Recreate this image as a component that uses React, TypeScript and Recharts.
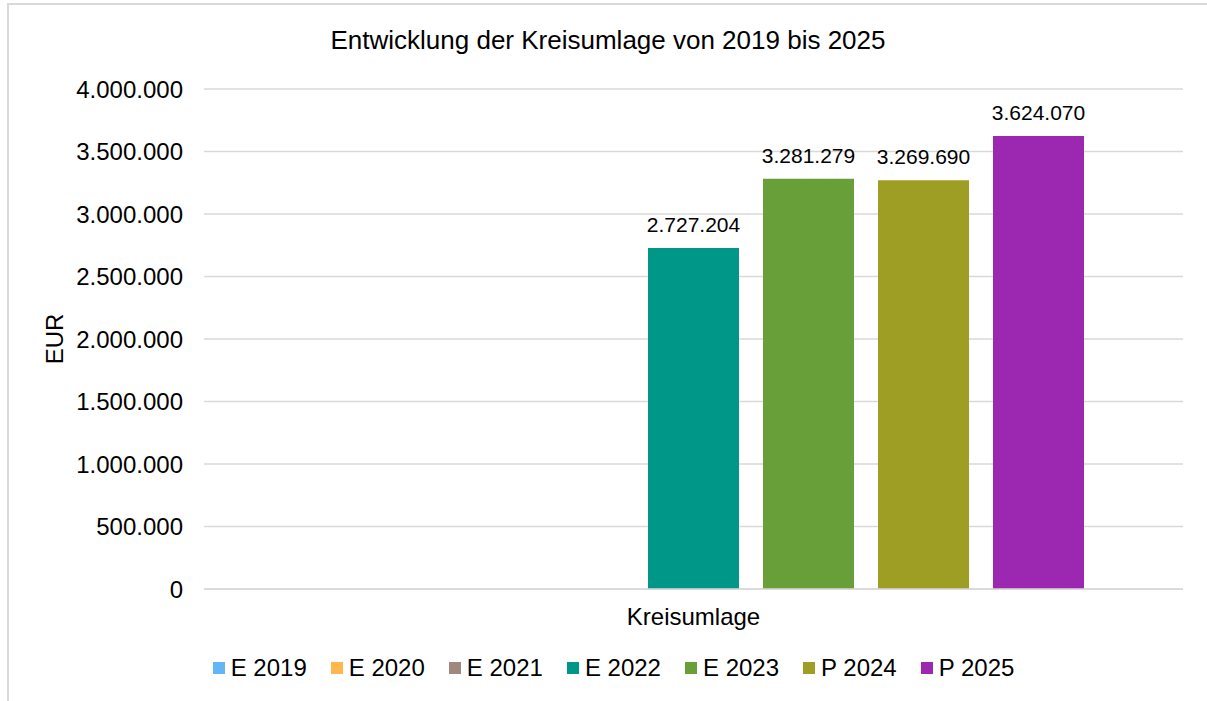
import { Bar, BarChart, CartesianGrid, LabelList, Legend, XAxis, YAxis, Label } from "recharts";

const categories = ["Kreisumlage"];
const seriesNames = ["E 2019", "E 2020", "E 2021", "E 2022", "E 2023", "P 2024", "P 2025"];
const seriesValues: (number | null)[] = [null, null, null, 2727204, 3281279, 3269690, 3624070];
const seriesColors = ["#64b5f6", "#ffb74d", "#a1887f", "#009688", "#689f38", "#9e9d24", "#9c27b0"];
const yTicks = [0, 500000, 1000000, 1500000, 2000000, 2500000, 3000000, 3500000, 4000000];

const FONT = "'Liberation Sans', Arial, sans-serif";

const data = categories.map((name) => {
  const row: Record<string, string | number | null> = { name };
  seriesNames.forEach((s, i) => {
    row[s] = seriesValues[i];
  });
  return row;
});

const fmt = (v: unknown) => {
  if (v === null || v === undefined || v === "") return "";
  return String(Math.round(Number(v))).replace(/\B(?=(\d{3})+(?!\d))/g, ".");
};

const renderLegend = () => (
  <div
    style={{
      display: "flex",
      justifyContent: "center",
      alignItems: "center",
      height: 30,
      paddingLeft: 20,
      fontFamily: FONT,
      fontSize: 24,
      color: "#000",
    }}
  >
    {seriesNames.map((s, i) => (
      <div key={s} style={{ display: "flex", alignItems: "center", marginRight: i < seriesNames.length - 1 ? 24 : 0 }}>
        <span style={{ display: "inline-block", width: 12, height: 12, background: seriesColors[i], marginRight: 6 }} />
        <span>{s}</span>
      </div>
    ))}
  </div>
);

export default function App() {
  return (
    <div style={{ position: "fixed", left: 0, top: 0, width: 1207, height: 701, overflow: "hidden", background: "#fff" }}>
      <div style={{ position: "absolute", left: 0, top: 0 }}>
        <BarChart
          width={1207}
          height={701}
          data={data}
          margin={{ top: 89, right: 24, bottom: 18, left: 0 }}
          barCategoryGap={99}
          barGap={24}
          style={{ fontFamily: FONT }}
        >
          <text x={608} y={49} textAnchor="middle" fontSize={26} fill="#000" fontFamily={FONT}>
            Entwicklung der Kreisumlage von 2019 bis 2025
          </text>
          <CartesianGrid vertical={false} stroke="#d9d9d9" strokeWidth={1.3} />
          <XAxis
            dataKey="name"
            height={64}
            tickLine={false}
            axisLine={{ stroke: "#d9d9d9", strokeWidth: 1.3 }}
            tickMargin={13}
            tick={{ fill: "#000", fontSize: 24, fontFamily: FONT }}
          />
          <YAxis
            width={204}
            domain={[0, 4000000]}
            ticks={yTicks}
            tickFormatter={fmt}
            axisLine={false}
            tickLine={false}
            tickMargin={15}
            tick={{ fill: "#000", fontSize: 24, fontFamily: FONT }}
          >
            <Label
              content={() => (
                <text
                  x={63}
                  y={339}
                  transform="rotate(-90, 63, 339)"
                  textAnchor="middle"
                  fontSize={24}
                  fill="#000"
                  fontFamily={FONT}
                >
                  EUR
                </text>
              )}
            />
          </YAxis>
          <Legend verticalAlign="bottom" content={renderLegend} wrapperStyle={{ left: 0, width: 1207 }} />
          {seriesNames.map((s, i) => (
            <Bar key={s} dataKey={s} fill={seriesColors[i]} isAnimationActive={false}>
              <LabelList
                dataKey={s}
                position="top"
                offset={16}
                formatter={fmt}
                fill="#000"
                fontSize={21}
                fontFamily={FONT}
              />
            </Bar>
          ))}
        </BarChart>
      </div>
      <div
        style={{
          position: "absolute",
          left: 7,
          top: 3,
          width: 1260,
          height: 760,
          borderTop: "2px solid #d9d9d9",
          borderLeft: "2px solid #d9d9d9",
          zIndex: 5,
          pointerEvents: "none",
        }}
      />
    </div>
  );
}
